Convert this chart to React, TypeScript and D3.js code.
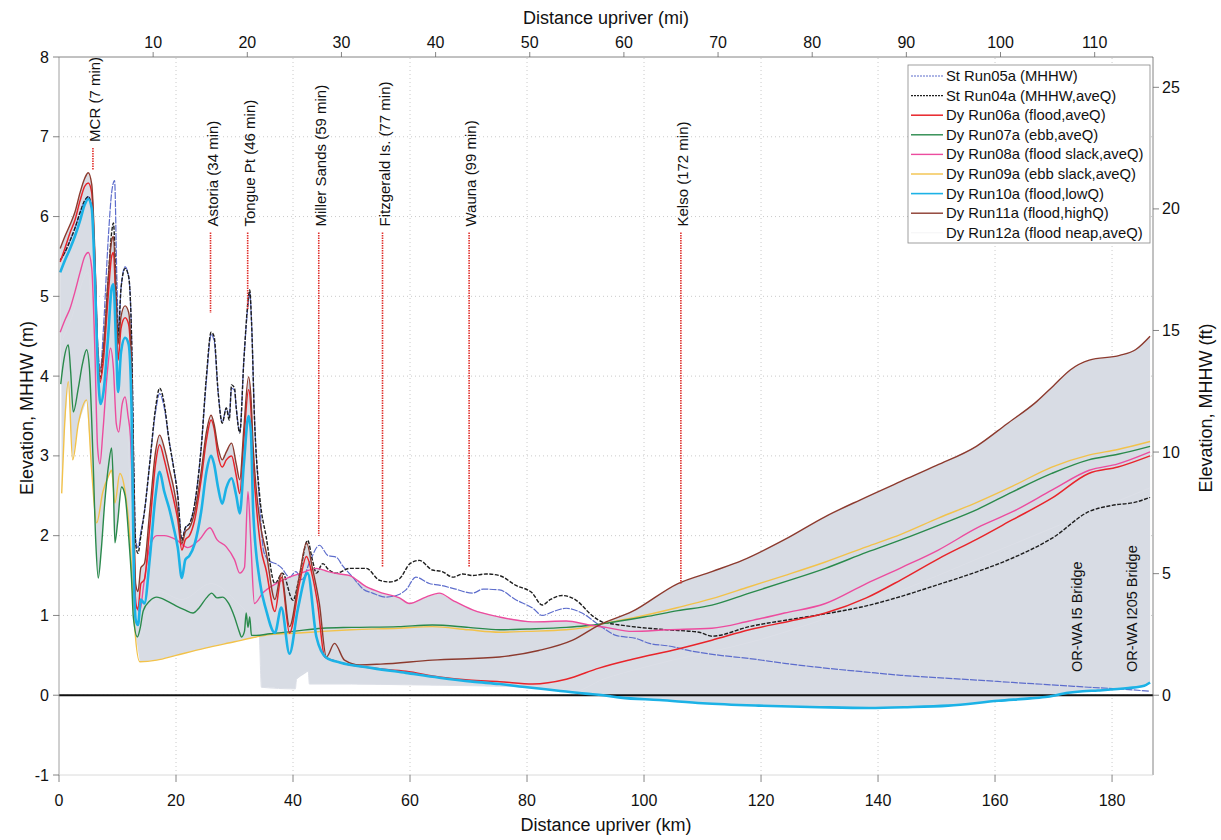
import { useEffect, useRef } from 'react';
import * as d3 from 'd3';

type Pt = [number, number];

// axis ticks
const kmTicks = [0, 20, 40, 60, 80, 100, 120, 140, 160, 180];
const miTicks = [10, 20, 30, 40, 50, 60, 70, 80, 90, 100, 110];
const mTicks = [-1, 0, 1, 2, 3, 4, 5, 6, 7, 8];
const ftTicks = [0, 5, 10, 15, 20, 25];

// St Run05a (MHHW)
const run05a: Pt[] = [[0.2,5.45],[1.0,5.55],[1.9,5.7],[2.7,5.85],[3.6,6.05],[4.4,6.2],[5.0,6.25],[5.6,6.1],[6.1,5.4],[6.7,4.3],[7.1,4.1],[7.6,4.6],[8.4,5.7],[9.0,6.3],[9.5,6.45],[9.9,5.2],[10.2,4.55],[10.6,5.1],[11.3,5.37],[11.9,5.25],[12.4,4.5],[12.8,2.8],[13.1,1.95],[13.5,1.85],[14.0,2.05],[14.6,2.3],[15.5,2.9],[16.5,3.55],[17.2,3.78],[18.0,3.6],[18.8,3.2],[19.6,2.85],[20.3,2.5],[21.0,1.96],[21.6,2.1],[22.3,2.15],[23.2,2.4],[24.3,3.1],[25.2,3.95],[26.0,4.52],[26.5,4.45],[27.2,3.8],[27.9,3.42],[28.6,3.6],[29.1,3.5],[29.5,3.85],[30.0,3.82],[30.3,3.6],[30.9,3.3],[31.6,4.2],[32.4,4.95],[32.6,5.05],[32.9,4.7],[33.4,3.5],[34.3,2.4],[35.0,1.8],[36.0,1.68],[37.0,1.65],[38.0,1.6],[39.4,1.48],[40.5,1.55],[41.5,1.45],[43.0,1.7],[44.5,1.88],[46.0,1.75],[47.4,1.73],[48.5,1.62],[50.2,1.48],[52.0,1.33],[53.6,1.28],[55.9,1.23],[58.0,1.26],[59.3,1.32],[61.0,1.48],[63.3,1.4],[65.0,1.38],[67.3,1.34],[70.7,1.28],[72.5,1.33],[75.3,1.32],[78.0,1.2],[81.0,1.09],[82.6,1.0],[84.5,1.05],[86.7,1.09],[89.4,1.03],[92.3,0.88],[95.2,0.75],[98.7,0.71],[100.9,0.65],[104,0.62],[108.4,0.55],[113,0.5],[118,0.46],[124,0.4],[131,0.34],[138,0.29],[143.9,0.25],[150,0.22],[156.8,0.19],[163,0.16],[169.7,0.13],[176,0.1],[181,0.08],[186.5,0.05]];

// St Run04a (MHHW,aveQ)
const run04a: Pt[] = [[0.2,5.45],[1.0,5.55],[1.9,5.7],[2.7,5.85],[3.6,6.05],[4.4,6.2],[5.0,6.25],[5.6,6.1],[6.1,5.4],[6.7,4.15],[7.1,3.97],[7.6,4.3],[8.4,5.2],[9.0,5.8],[9.3,5.92],[9.8,5.0],[10.1,4.5],[10.6,5.1],[11.3,5.35],[11.9,5.25],[12.4,4.5],[12.8,2.8],[13.1,1.9],[13.5,1.78],[14.0,2.0],[14.6,2.3],[15.5,2.9],[16.5,3.6],[17.2,3.85],[18.0,3.65],[18.8,3.2],[19.6,2.85],[20.3,2.5],[21.0,1.94],[21.6,2.1],[22.3,2.15],[23.2,2.4],[24.3,3.1],[25.2,4.0],[26.0,4.55],[26.5,4.5],[27.2,3.8],[27.9,3.41],[28.6,3.6],[29.1,3.45],[29.5,3.89],[30.0,3.85],[30.3,3.6],[30.9,3.29],[31.6,4.2],[32.4,5.0],[32.6,5.08],[32.9,4.7],[33.4,3.5],[34.3,2.5],[35.4,1.99],[36.9,1.4],[38.2,1.53],[40.0,1.19],[41.0,1.45],[42.5,1.94],[43.3,1.7],[44.0,1.53],[45.1,1.65],[46.0,1.58],[47.4,1.53],[49.7,1.59],[52.5,1.59],[54.8,1.44],[56.5,1.42],[58.2,1.46],[60.0,1.65],[61.6,1.69],[63.8,1.57],[65.5,1.55],[67.3,1.48],[69.0,1.52],[70.7,1.5],[73.0,1.52],[75.3,1.5],[78.0,1.38],[80.9,1.28],[82.6,1.13],[84.0,1.2],[86.0,1.25],[88.4,1.19],[91.1,1.0],[92.8,0.92],[95.0,0.89],[98.0,0.86],[104,0.82],[109.4,0.79],[111.6,0.74],[118,0.86],[125,0.95],[131,1.02],[138,1.12],[144,1.24],[150,1.38],[157,1.55],[163,1.72],[170,1.98],[176,2.3],[180,2.38],[184,2.42],[186.5,2.48]];

// Dy Run06a (flood,aveQ)
const run06a: Pt[] = [[0.2,5.43],[1.0,5.6],[1.9,5.8],[2.7,5.95],[3.6,6.2],[4.4,6.38],[5.0,6.42],[5.6,6.3],[6.1,5.5],[6.7,4.2],[7.0,3.92],[7.6,4.2],[8.4,5.0],[9.0,5.5],[9.3,5.55],[9.8,4.7],[10.1,4.2],[10.6,4.6],[11.3,4.73],[11.9,4.65],[12.4,3.9],[12.8,2.0],[13.1,1.15],[13.5,1.08],[14.0,1.4],[14.6,1.45],[15.5,2.1],[16.5,2.9],[17.2,3.14],[18.0,2.95],[18.8,2.7],[19.6,2.45],[20.3,2.2],[21.0,1.82],[21.6,1.95],[22.3,2.0],[23.2,2.2],[24.3,2.7],[25.2,3.2],[26.0,3.45],[26.5,3.35],[27.2,3.0],[27.9,2.86],[28.6,2.95],[29.5,3.0],[30.3,2.75],[30.9,2.53],[31.6,3.2],[32.4,3.83],[32.8,3.6],[33.2,2.9],[33.7,2.4],[34.5,1.85],[35.4,1.57],[36.9,1.05],[38.0,1.48],[39.4,0.78],[41.1,1.4],[42.3,1.74],[43.3,1.5],[44.2,1.15],[45.4,0.48],[46.8,0.44],[48.5,0.4],[53.6,0.34],[59.3,0.3],[65,0.23],[70,0.19],[75.3,0.17],[81,0.14],[86.7,0.2],[92.3,0.34],[98,0.45],[105.8,0.58],[111.6,0.69],[118,0.82],[125,0.93],[131,1.03],[138,1.22],[144,1.45],[150.3,1.71],[157,1.96],[163,2.2],[169.7,2.47],[176,2.78],[181,2.86],[186.5,3.0]];

// Dy Run07a (ebb,aveQ)
const run07a: Pt[] = [[0.3,3.9],[0.74,4.16],[1.59,4.39],[2.0,4.05],[2.44,3.55],[3.3,3.85],[4.0,4.15],[4.72,4.33],[5.2,4.1],[5.8,3.0],[6.3,1.9],[6.71,1.47],[7.2,1.8],[7.8,2.4],[8.5,2.9],[8.99,3.1],[9.3,2.6],[9.56,1.91],[10.0,2.15],[10.7,2.61],[11.3,2.5],[11.9,2.0],[12.4,1.45],[12.7,0.98],[13.4,0.73],[13.9,0.85],[14.4,1.06],[15.5,1.18],[16.7,1.23],[18.5,1.18],[20.0,1.12],[21.5,1.07],[22.9,1.03],[24.0,1.1],[25.2,1.22],[26.1,1.28],[27.0,1.22],[28.0,1.23],[29.0,1.15],[30.0,0.98],[30.8,0.8],[31.2,0.73],[31.7,0.8],[32.0,1.03],[32.3,0.85],[32.6,0.98],[32.9,0.75],[33.7,0.75],[36.0,0.77],[40.0,0.8],[45.0,0.84],[50.0,0.85],[58.0,0.86],[63.8,0.88],[70.0,0.85],[75.3,0.82],[80.0,0.83],[86.7,0.85],[90.0,0.87],[93.3,0.9],[100,0.98],[105.8,1.06],[111.6,1.13],[118,1.28],[124,1.42],[131,1.59],[138,1.79],[144,1.95],[150.3,2.13],[157,2.33],[163,2.55],[169.7,2.78],[176,2.95],[181,3.02],[186.5,3.12]];

// Dy Run08a (flood slack,aveQ)
const run08a: Pt[] = [[0.2,4.55],[1.0,4.7],[1.9,4.85],[2.7,5.05],[3.6,5.3],[4.4,5.5],[5.0,5.55],[5.6,5.35],[6.1,4.4],[6.6,3.1],[7.0,2.9],[7.5,3.3],[8.2,4.0],[8.8,4.35],[9.3,4.1],[9.8,3.4],[10.2,3.3],[10.8,3.65],[11.3,3.74],[11.8,3.5],[12.2,3.25],[12.6,2.4],[13.0,1.3],[13.3,1.1],[13.8,1.05],[14.5,1.4],[15.5,1.85],[16.7,2.0],[18.0,2.0],[20.0,1.95],[22.0,1.85],[24.0,1.95],[25.8,2.1],[27.0,1.95],[28.6,1.86],[30.0,1.7],[30.9,1.53],[31.7,1.6],[32.3,2.55],[32.8,1.9],[33.4,1.15],[34.8,1.28],[37.1,1.4],[39.4,1.48],[41.7,1.54],[44.0,1.59],[46.0,1.55],[48.0,1.52],[49.7,1.5],[52.5,1.36],[55.3,1.28],[58.2,1.22],[59.9,1.15],[62.7,1.23],[65.0,1.28],[67.3,1.19],[70.7,1.07],[75.3,0.98],[81.0,0.92],[86.7,0.93],[90.6,0.88],[93.5,0.85],[98.0,0.8],[104,0.82],[111.6,0.84],[118,0.93],[124,1.03],[131,1.15],[138,1.4],[144,1.6],[150.3,1.82],[157,2.1],[163,2.3],[169.7,2.57],[176.1,2.82],[181,2.9],[186.5,3.05]];

// Dy Run09a (ebb slack,aveQ)
const run09a: Pt[] = [[0.46,2.53],[0.9,3.3],[1.59,3.93],[2.33,2.95],[3.3,3.4],[4.72,3.7],[5.58,2.82],[6.43,2.16],[7.5,2.55],[8.42,2.74],[8.99,2.82],[9.56,2.41],[10.4,2.78],[11.26,2.57],[12.1,1.99],[12.6,1.3],[12.97,0.82],[13.8,0.42],[16.7,0.44],[20,0.5],[25,0.59],[30,0.67],[33.7,0.73],[36,0.76],[41,0.78],[45,0.8],[50,0.82],[58,0.84],[63.8,0.86],[70,0.82],[75.3,0.79],[80,0.8],[86.7,0.82],[90,0.85],[93.3,0.9],[100,1.0],[105.8,1.1],[111.6,1.21],[118,1.36],[124,1.5],[131,1.67],[138,1.86],[144,2.02],[150.3,2.22],[157,2.42],[163,2.62],[169.7,2.86],[176,3.01],[181,3.08],[186.5,3.18]];

// Dy Run10a (flood,lowQ)
const run10a: Pt[] = [[0.2,5.3],[1.0,5.45],[1.9,5.6],[2.7,5.75],[3.6,5.95],[4.4,6.15],[5.0,6.22],[5.6,6.1],[6.1,5.3],[6.7,4.0],[7.1,3.65],[7.6,3.8],[8.4,4.5],[9.0,5.1],[9.3,5.15],[9.8,4.3],[10.1,3.8],[10.6,4.3],[11.3,4.48],[11.9,4.4],[12.4,3.6],[12.8,1.5],[13.1,0.95],[13.5,0.88],[14.0,1.2],[14.6,1.15],[15.5,1.7],[16.5,2.5],[17.2,2.8],[18.0,2.55],[18.8,2.35],[19.6,2.1],[20.3,1.85],[21.0,1.47],[21.6,1.7],[22.3,1.75],[23.2,1.9],[24.3,2.3],[25.2,2.8],[26.0,3.0],[26.5,2.9],[27.2,2.6],[27.9,2.4],[28.6,2.6],[29.5,2.72],[30.3,2.5],[30.9,2.28],[31.6,2.9],[32.4,3.5],[32.8,3.3],[33.2,2.3],[34.3,1.44],[35.4,1.07],[36.9,0.78],[38.0,1.1],[39.4,0.52],[40.8,1.07],[42.5,1.53],[44.0,0.73],[45.7,0.47],[48.0,0.41],[53.6,0.34],[59.3,0.28],[65,0.22],[70.7,0.17],[75.3,0.14],[80,0.1],[85,0.06],[90,0.02],[93,0.0],[96,-0.03],[102.6,-0.06],[110,-0.1],[119.6,-0.13],[130,-0.15],[138.4,-0.16],[145,-0.15],[152,-0.13],[160.6,-0.07],[166,-0.04],[169,-0.02],[172.5,0.03],[175,0.05],[177.6,0.06],[182.8,0.09],[185.5,0.12],[186.5,0.16]];

// Dy Run11a (flood,highQ)
const run11a: Pt[] = [[0.2,5.6],[1.0,5.75],[1.9,5.9],[2.7,6.05],[3.6,6.3],[4.4,6.48],[5.0,6.55],[5.6,6.4],[6.1,5.6],[6.6,4.3],[7.0,4.05],[7.6,4.35],[8.4,5.2],[9.0,5.7],[9.3,5.75],[9.8,4.9],[10.1,4.4],[10.6,4.75],[11.3,4.88],[11.9,4.8],[12.4,4.1],[12.8,2.3],[13.1,1.4],[13.5,1.3],[14.0,1.6],[14.6,1.65],[15.5,2.3],[16.5,3.05],[17.2,3.26],[18.0,3.1],[18.8,2.85],[19.6,2.6],[20.3,2.3],[21.0,1.9],[21.6,2.05],[22.3,2.1],[23.2,2.3],[24.3,2.8],[25.2,3.3],[26.0,3.51],[26.5,3.4],[27.2,3.1],[27.9,2.95],[28.6,3.05],[29.5,3.16],[30.3,2.9],[30.9,2.7],[31.6,3.35],[32.4,3.99],[32.8,3.75],[33.2,3.1],[33.7,2.6],[34.5,2.1],[35.4,1.8],[36.9,1.2],[38.0,1.53],[39.4,0.86],[41.1,1.5],[42.3,1.91],[43.3,1.6],[44.5,1.15],[45.7,0.48],[47.1,0.65],[48.8,0.44],[51.4,0.38],[55,0.39],[63.8,0.44],[75.3,0.48],[82,0.56],[87.8,0.69],[92.3,0.88],[98,1.05],[105.8,1.4],[111.6,1.55],[116.8,1.69],[124,1.95],[131,2.24],[137,2.45],[143.9,2.68],[150,2.88],[156.8,3.12],[162,3.4],[167.1,3.68],[170,3.88],[172.9,4.08],[176.1,4.2],[181.3,4.26],[184,4.33],[186.5,4.5]];

// Dy Run12a (flood neap,aveQ)
const run12a: Pt[] = [[0.2,4.4],[2,4.7],[5,5.3],[6.7,2.8],[9,3.9],[10,3.4],[11.3,3.8],[12.6,1.6],[13.3,0.7],[17,1.3],[21,1.2],[26,1.4],[30,1.2],[33.0,0.95],[34.2,0.8],[34.6,0.1],[40.4,0.08],[40.6,0.2],[42.6,0.3],[42.8,0.14],[50,0.14],[60,0.13],[70,0.12],[80,0.1],[88,0.05],[93,0.2],[100,0.35],[120,0.7],[140,1.2],[160,1.8],[186.5,2.6]];

// station markers along the river
const stationNames = ['MCR (7 min)', 'Astoria (34 min)', 'Tongue Pt (46 min)', 'Miller Sands (59 min)', 'Fitzgerald Is. (77 min)', 'Wauna (99 min)', 'Kelso (172 min)'];
const stationKm = [5.8, 25.9, 32.25, 44.4, 55.3, 70.1, 106.3];
const stationTop = [6.86, 5.8, 5.8, 5.8, 5.8, 5.8, 5.8];
const stationBottom = [6.59, 4.79, 4.83, 2.0, 1.6, 1.6, 1.4];

const bridgeNames = ['OR-WA I5 Bridge', 'OR-WA I205 Bridge'];
const bridgeKm = [174.9, 184.3];
const bridgeBase = 0.29;

const series = [
  { name: 'St Run05a (MHHW)', data: run05a, color: '#5d6dcc', width: 1.2, dash: '7,1.2', dy: false },
  { name: 'St Run04a (MHHW,aveQ)', data: run04a, color: '#1e1e1e', width: 1.4, dash: '4,1.5', dy: false },
  { name: 'Dy Run06a (flood,aveQ)', data: run06a, color: '#e8242a', width: 1.5, dash: null, dy: true },
  { name: 'Dy Run07a (ebb,aveQ)', data: run07a, color: '#2a8a4c', width: 1.4, dash: null, dy: true },
  { name: 'Dy Run08a (flood slack,aveQ)', data: run08a, color: '#ec4c9e', width: 1.4, dash: null, dy: true },
  { name: 'Dy Run09a (ebb slack,aveQ)', data: run09a, color: '#f2c24a', width: 1.4, dash: null, dy: true },
  { name: 'Dy Run10a (flood,lowQ)', data: run10a, color: '#1cb2e6', width: 2.6, dash: null, dy: true },
  { name: 'Dy Run11a (flood,highQ)', data: run11a, color: '#8c3a2e', width: 1.4, dash: null, dy: true },
  { name: 'Dy Run12a (flood neap,aveQ)', data: run12a, color: '#f4f4f6', width: 1, dash: null, dy: true },
];

const W = 1221;
const H = 840;
const margin = { top: 57, right: 68, bottom: 65, left: 59 };
const bandColor = '#d8dce4';

function valueAt(data: Pt[], k: number) {
  if (k < data[0][0] || k > data[data.length - 1][0]) return null;
  const i = d3.bisector((d: Pt) => d[0]).left(data, k);
  if (i === 0) return data[0][1];
  const a = data[i - 1], b = data[i];
  if (b[0] === k) return b[1];
  return a[1] + (b[1] - a[1]) * (k - a[0]) / (b[0] - a[0]);
}

export default function App() {
  const svgRef = useRef<SVGSVGElement>(null);

  useEffect(() => {
    if (!svgRef.current) return;
    const svg = d3.select(svgRef.current);
    svg.selectAll('*').remove();

    const x0 = margin.left, x1 = W - margin.right;
    const y0 = H - margin.bottom, y1 = margin.top;

    const x = d3.scaleLinear().domain([0, 187]).range([x0, x1]);
    const y = d3.scaleLinear().domain([-1, 8]).range([y0, y1]);
    const yFt = d3.scaleLinear().domain([-1 / 0.3048, 8 / 0.3048]).range([y0, y1]);
    const xMi = (mi: number) => x(mi * 1.609344);

    // grid (dotted)
    const grid = svg.append('g').attr('stroke', '#bdbdbd').attr('stroke-width', 0.8).attr('stroke-dasharray', '1,3');
    kmTicks.filter(k => k > 0).forEach(k => {
      grid.append('line').attr('x1', x(k)).attr('x2', x(k)).attr('y1', y0).attr('y2', y1);
    });
    mTicks.filter(m => m > -1 && m < 8).forEach(m => {
      grid.append('line').attr('x1', x0).attr('x2', x1).attr('y1', y(m)).attr('y2', y(m));
    });

    // envelope of the dynamic runs
    const dyRuns = series.filter(s => s.dy).map(s => s.data);
    const kms = Array.from(new Set([
      ...d3.range(0.2, 186.5, 0.2),
      ...dyRuns.flatMap(d => d.map(p => p[0])),
      186.5,
    ])).sort((a, b) => a - b);
    const band = kms.map(k => {
      const vals = dyRuns.map(d => valueAt(d, k)).filter(v => v !== null) as number[];
      return { k, lo: d3.min(vals) as number, hi: d3.max(vals) as number };
    });
    svg.append('path')
      .datum(band)
      .attr('fill', bandColor)
      .attr('d', d3.area<any>().x(d => x(d.k)).y0(d => y(d.lo)).y1(d => y(d.hi)));

    // zero line
    svg.append('line')
      .attr('x1', x0).attr('x2', x1).attr('y1', y(0)).attr('y2', y(0))
      .attr('stroke', '#111').attr('stroke-width', 2);

    // series lines (Run12a is practically invisible on the band)
    const line = d3.line<Pt>().x(d => x(d[0])).y(d => y(d[1])).curve(d3.curveMonotoneX);
    const order = [8, 0, 1, 5, 3, 4, 2, 7, 6];
    order.forEach(i => {
      const s = series[i];
      svg.append('path')
        .datum(s.data)
        .attr('fill', 'none')
        .attr('stroke', i === 8 ? '#dcdfe7' : s.color)
        .attr('stroke-width', s.width)
        .attr('stroke-linejoin', 'round')
        .attr('stroke-dasharray', s.dash)
        .attr('d', line);
    });

    // station markers
    stationNames.forEach((name, i) => {
      const sx = x(stationKm[i]);
      svg.append('line')
        .attr('x1', sx).attr('x2', sx)
        .attr('y1', y(stationTop[i])).attr('y2', y(stationBottom[i]))
        .attr('stroke', '#e0302c').attr('stroke-width', 1.6).attr('stroke-dasharray', '1.5,1');
      svg.append('text')
        .attr('transform', `translate(${sx + 7},${y(stationTop[i]) - 6}) rotate(-90)`)
        .attr('font-size', 15)
        .attr('fill', '#111')
        .text(name);
    });

    bridgeNames.forEach((name, i) => {
      svg.append('text')
        .attr('transform', `translate(${x(bridgeKm[i])},${y(bridgeBase)}) rotate(-90)`)
        .attr('font-size', 14.5)
        .attr('fill', '#111')
        .text(name);
    });

    // frame
    const frame = svg.append('g').attr('fill', 'none');
    frame.append('line').attr('x1', x0).attr('x2', x1).attr('y1', y1).attr('y2', y1).attr('stroke', '#666').attr('stroke-width', 0.8);
    frame.append('line').attr('x1', x1).attr('x2', x1).attr('y1', y1).attr('y2', y0).attr('stroke', '#666').attr('stroke-width', 0.8);
    frame.append('line').attr('x1', x0).attr('x2', x0).attr('y1', y1).attr('y2', y0).attr('stroke', '#888').attr('stroke-width', 0.8);
    frame.append('line').attr('x1', x0).attr('x2', x1).attr('y1', y0).attr('y2', y0).attr('stroke', '#d0d0d0').attr('stroke-width', 0.8);

    const tk = svg.append('g').attr('stroke', '#666').attr('stroke-width', 0.8);
    const lbl = svg.append('g').attr('font-size', 16).attr('fill', '#111');

    kmTicks.forEach(k => {
      tk.append('line').attr('x1', x(k)).attr('x2', x(k)).attr('y1', y0).attr('y2', y0 + 7);
      lbl.append('text').attr('x', x(k)).attr('y', 806).attr('text-anchor', 'middle').text(k);
    });
    miTicks.forEach(m => {
      tk.append('line').attr('x1', xMi(m)).attr('x2', xMi(m)).attr('y1', y1).attr('y2', y1 - 5);
      lbl.append('text').attr('x', xMi(m)).attr('y', 48).attr('text-anchor', 'middle').text(m);
    });
    mTicks.forEach(m => {
      tk.append('line').attr('x1', x0 - 6).attr('x2', x0).attr('y1', y(m)).attr('y2', y(m));
      lbl.append('text').attr('x', 49).attr('y', y(m) + 5.5).attr('text-anchor', 'end').text(m);
    });
    ftTicks.forEach(f => {
      tk.append('line').attr('x1', x1).attr('x2', x1 + 6).attr('y1', yFt(f)).attr('y2', yFt(f));
      lbl.append('text').attr('x', 1162).attr('y', yFt(f) + 5.5).attr('text-anchor', 'start').text(f);
    });

    // axis titles
    const title = svg.append('g').attr('font-size', 18).attr('fill', '#111').attr('text-anchor', 'middle');
    title.append('text').attr('x', (x0 + x1) / 2).attr('y', 831).text('Distance upriver (km)');
    title.append('text').attr('x', (x0 + x1) / 2).attr('y', 24).text('Distance upriver (mi)');
    title.append('text').attr('transform', 'translate(33,408) rotate(-90)').text('Elevation, MHHW (m)');
    title.append('text').attr('transform', 'translate(1212,408) rotate(-90)').text('Elevation, MHHW (ft)');

    // legend
    const lg = svg.append('g').attr('transform', 'translate(908,65)');
    lg.append('rect').attr('width', 242).attr('height', 178).attr('fill', '#fff').attr('stroke', '#888').attr('stroke-width', 0.8);
    series.forEach((s, i) => {
      const ly = 11 + i * 19.6;
      lg.append('line')
        .attr('x1', 3).attr('x2', 35).attr('y1', ly).attr('y2', ly)
        .attr('stroke', s.color).attr('stroke-width', Math.min(s.width, 1.6))
        .attr('stroke-dasharray', s.dash ? '2,1' : null);
      lg.append('text')
        .attr('x', 38).attr('y', ly + 5)
        .attr('font-size', 14.8).attr('fill', '#111')
        .text(s.name);
    });
  }, []);

  return (
    <svg
      ref={svgRef}
      width={W}
      height={H}
      style={{ position: 'absolute', left: 0, top: 0, background: '#fff', fontFamily: '"Liberation Sans", Arial, sans-serif' }}
    />
  );
}
